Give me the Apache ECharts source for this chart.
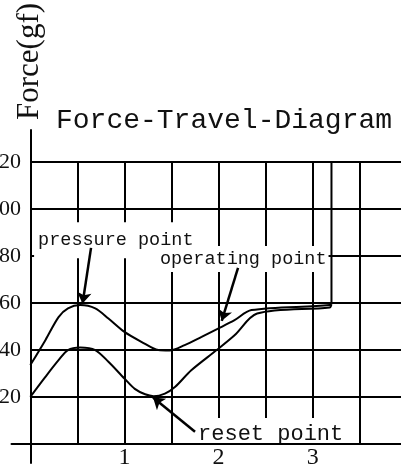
<!DOCTYPE html>
<html>
<head>
<meta charset="utf-8">
<script src="https://cdn.jsdelivr.net/npm/echarts@6/dist/echarts.min.js"></script>
<style>
html, body { margin: 0; padding: 0; background: #fff; }
#chart { width: 401px; height: 468px; }
</style>
</head>
<body>
<div id="chart"></div>
<script>
// axis ranges (travel in mm, force in gf)
const X_MIN = -0.2;
const X_MAX = 3.96;
const Y_MIN = -8;
const Y_MAX = 133.5;
const Y_TOP = 120;

const xGrid = [0.5, 1, 1.5, 2, 2.5, 3, 3.5];
const yGrid = [20, 40, 60, 80, 100, 120];
const xTickLabels = [1, 2, 3];
const yTickLabels = [20, 40, 60, 80, 100, 120];

// press stroke (upper curve), ends at bottom-out
const pressCurve = [
    [0, 33.6], [0.16, 44.2], [0.30, 54.0], [0.40, 57.7], [0.53, 59.1],
    [0.69, 57.7], [0.83, 53.4], [1.0, 47.7], [1.18, 43.5], [1.36, 40.0],
    [1.48, 39.8], [1.64, 42.1], [1.82, 45.6], [2.0, 49.2], [2.17, 52.7],
    [2.35, 57.0], [3.18, 59.1], [3.2, 60.5], [3.2, 120]
];
// return stroke (lower curve)
const releaseCurve = [
    [0, 20.1], [0.16, 28.6], [0.30, 35.7], [0.40, 40.0], [0.53, 41.1],
    [0.69, 40.0], [0.83, 35.0], [1.0, 27.9], [1.11, 23.5], [1.22, 21.2],
    [1.31, 20.4], [1.43, 21.5], [1.54, 24.4], [1.71, 31.4], [1.98, 40.0],
    [2.17, 46.3], [2.41, 55.5], [3.18, 58.1], [3.2, 59.5]
];

// annotation texts, their anchors and arrows (data coords)
const noteNames = ['pressure point', 'operating point', 'reset point'];
const notePos = [[0.04, 86.6], [1.325, 78.7], [1.644, 4.3]];
const arrowFrom = [[0.645, 83.4], [2.207, 74.9], [1.750, 5.3]];
const arrowTo = [[0.555, 59.8], [2.034, 52.4], [1.304, 19.8]];

const textColor = '#111';
const monoFont = '"Liberation Mono", monospace';
const serifFont = '"Liberation Serif", serif';

const noteStyles = [
    { fontSize: 18.5, lineHeight: 20, padding: [0, 2, 16, 4] },
    { fontSize: 18.5, lineHeight: 20, padding: [4, 2, 2, 5] },
    { fontSize: 22, lineHeight: 16, padding: [16, 2, 0, 13] }
];

var myChart = echarts.init(document.getElementById('chart'));

var gridLines = yGrid.map(v => ({ coords: [[0, v], [X_MAX, v]] }))
    .concat(xGrid.map(v => ({ coords: [[v, 0], [v, Y_TOP]] })));

myChart.setOption({
    animation: false,
    title: {
        text: 'Force-Travel-Diagram',
        left: 56,
        top: 107,
        padding: 0,
        textStyle: {
            fontFamily: monoFont,
            fontSize: 28,
            fontWeight: 'normal',
            color: textColor
        }
    },
    grid: {
        left: 11.5,
        right: -2,
        top: 130,
        bottom: 5,
        containLabel: false,
        outerBoundsMode: 'none'
    },
    xAxis: {
        type: 'value',
        min: X_MIN,
        max: X_MAX,
        z: 5,
        axisLine: { onZero: true, lineStyle: { color: '#000', width: 2 } },
        axisTick: { show: false },
        splitLine: { show: false },
        axisLabel: {
            customValues: xTickLabels,
            fontFamily: serifFont,
            fontSize: 24,
            color: textColor,
            margin: -17
        }
    },
    yAxis: {
        type: 'value',
        min: Y_MIN,
        max: Y_MAX,
        z: 5,
        name: 'Force(gf)',
        nameLocation: 'end',
        nameRotate: 90,
        nameGap: 10,
        nameTextStyle: {
            fontFamily: serifFont,
            fontSize: 31,
            color: textColor,
            padding: [0, 0, 8, 0]
        },
        axisLine: { onZero: true, lineStyle: { color: '#000', width: 2 } },
        axisTick: { show: false },
        splitLine: { show: false },
        axisLabel: {
            customValues: yTickLabels,
            fontFamily: serifFont,
            fontSize: 22,
            color: textColor,
            margin: -9.5
        }
    },
    series: [
        {
            name: 'grid',
            type: 'lines',
            coordinateSystem: 'cartesian2d',
            z: 1,
            silent: true,
            symbol: 'none',
            lineStyle: { color: '#000', width: 2, opacity: 1 },
            data: gridLines
        },
        {
            name: 'press',
            type: 'line',
            z: 2,
            smooth: 0.3,
            showSymbol: false,
            lineStyle: { color: '#000', width: 2 },
            data: pressCurve
        },
        {
            name: 'release',
            type: 'line',
            z: 2,
            smooth: 0.3,
            showSymbol: false,
            lineStyle: { color: '#000', width: 2 },
            data: releaseCurve
        },
        {
            name: 'notes',
            type: 'scatter',
            z: 3,
            symbolSize: 0,
            silent: true,
            itemStyle: { opacity: 1 },
            data: noteNames.map((n, i) => ({
                value: notePos[i],
                label: {
                    show: true,
                    position: 'right',
                    distance: 0,
                    formatter: n,
                    fontFamily: monoFont,
                    fontSize: noteStyles[i].fontSize,
                    lineHeight: noteStyles[i].lineHeight,
                    padding: noteStyles[i].padding,
                    color: textColor,
                    opacity: 1,
                    backgroundColor: '#fff'
                }
            }))
        },
        {
            name: 'arrows',
            type: 'lines',
            coordinateSystem: 'cartesian2d',
            z: 4,
            silent: true,
            symbol: ['none', 'arrow'],
            symbolSize: [0, 11],
            lineStyle: { color: '#000', width: 2.5, opacity: 1 },
            data: arrowFrom.map((p, i) => ({ coords: [p, arrowTo[i]] }))
        }
    ]
});
</script>
</body>
</html>
